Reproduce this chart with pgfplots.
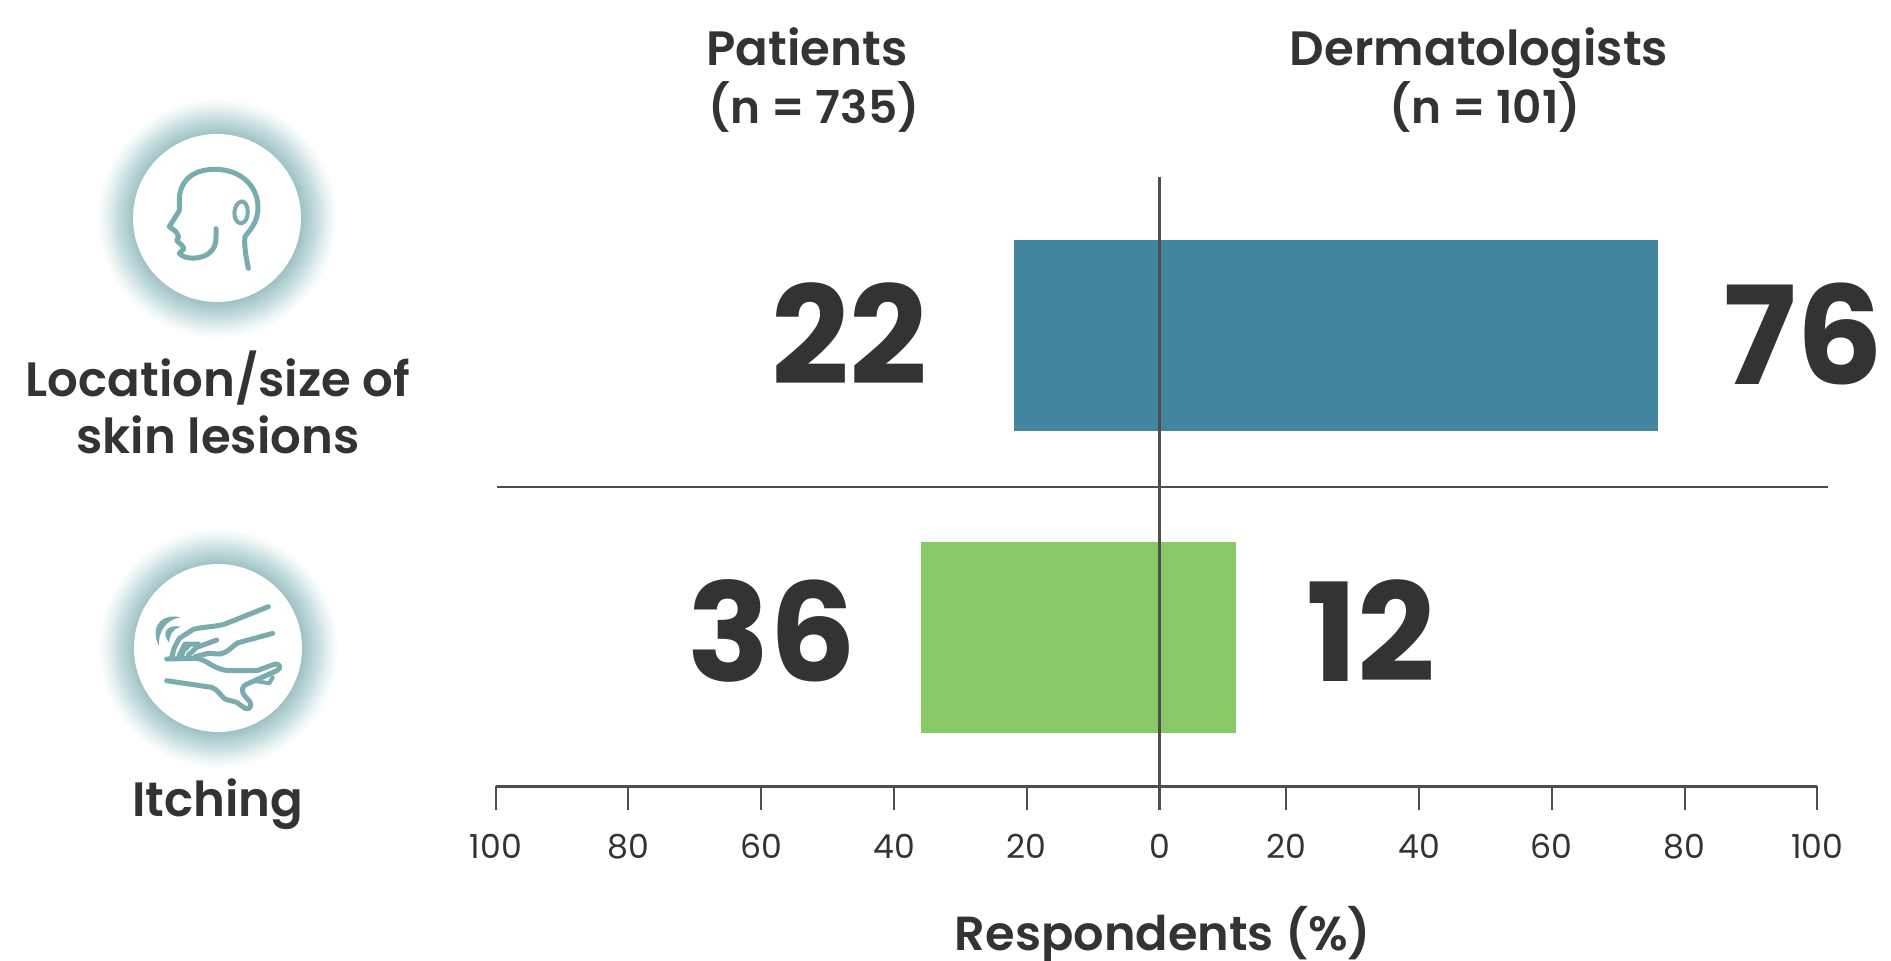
\documentclass[border=0pt]{standalone}
\usepackage{fontspec}
\setmainfont{Poppins}
\newfontfamily\semi{Poppins SemiBold}
\newfontfamily\heavy{Poppins}[UprightFont=* Bold]
\usepackage{pgfplots}
\pgfplotsset{compat=1.18}
\definecolor{ink}{HTML}{333333}
\definecolor{rule}{HTML}{4D4D4D}
\definecolor{lesionbar}{RGB}{65,134,158}
\definecolor{itchbar}{RGB}{136,200,102}
\definecolor{icon}{RGB}{122,172,175}
\pgfdeclareradialshading{glow}{\pgfpointorigin}{%
  rgb(0bp)=(.62,.76,.77);
  rgb(17.5bp)=(.62,.76,.77);
  rgb(20.8bp)=(.78,.87,.88);
  rgb(23bp)=(.91,.95,.95);
  rgb(25bp)=(1,1,1);
  rgb(50bp)=(1,1,1)}
\tikzset{
  lbl/.style={font=\semi\fontsize{24.2}{28}\selectfont,text=ink,inner sep=0pt,anchor=base},
  sub/.style={font=\semi\fontsize{22.8}{28}\selectfont,text=ink,inner sep=0pt,anchor=base},
  val/.style={font=\heavy\fontsize{68.5}{72}\selectfont,text=ink,inner sep=0pt,anchor=center},
  ic/.style={draw=icon,line width=2.5bp,line cap=round,line join=round}
}
\begin{document}
\begin{tikzpicture}[x=0.5bp,y=-0.5bp]
\path[use as bounding box] (0,0) rectangle (1891,960);

% Halo and disc behind each pictogram
\shade[shading=glow] (217,218) circle (120);
\fill[white] (217,218) circle (84);
\shade[shading=glow] (218,648) circle (120);
\fill[white] (218,648) circle (84);

% Head in profile
\begin{scope}[x=1bp/6,y=-1bp/6,shift={(40bp,-45bp)}]
  \draw[ic] (505,535) .. controls (497,495) and (492,465) .. (495,440)
     .. controls (510,420) and (535,395) .. (534,350)
     .. controls (532,285) and (480,238) .. (405,238)
     .. controls (330,238) and (298,280) .. (298,330)
     -- (298,362) -- (268,410) -- (288,425) -- (296,440) -- (290,452)
     -- (306,466) -- (312,476) -- (298,490)
     .. controls (312,510) and (370,510) .. (392,485)
     .. controls (410,468) and (408,450) .. (408,416);
  \draw[ic,line width=2bp] (485,334) .. controls (510,335) and (510,400) .. (482,400)
     .. controls (455,395) and (458,340) .. (485,334);
\end{scope}

% Scratching hands
\begin{scope}[x=1bp/6,y=-1bp/6,shift={(40bp,-260bp)}]
  \draw[ic] (565,260) -- (435,312) .. controls (400,322) and (365,320) .. (340,328)
     -- (298,355) -- (282,385) -- (276,410);
  \draw[ic] (578,340) -- (475,368) .. controls (455,378) and (450,395) .. (420,402)
     -- (385,400) -- (345,410);
  \draw[ic] (410,360) -- (350,382) -- (325,405);
  \draw[ic] (355,372) -- (315,372) -- (297,408);
  \draw[ic] (325,378) -- (308,395) -- (305,410);
  \draw[ic] (260,417) -- (350,415) .. controls (385,420) and (400,450) .. (450,452)
     -- (530,452) -- (585,432) .. controls (600,430) and (605,445) .. (590,452)
     -- (495,495) .. controls (478,510) and (490,525) .. (510,545)
     .. controls (515,560) and (510,570) .. (495,565)
     -- (470,547) -- (435,537) .. controls (420,525) and (415,510) .. (395,502)
     -- (260,482);
  \draw[ic,line width=2bp] (520,482) -- (568,490) -- (578,472);
  \fill[icon] (302,292) .. controls (260,280) and (205,305) .. (236,378)
     .. controls (236,335) and (255,300) .. (302,292);
  \fill[icon] (302,320) .. controls (265,312) and (240,335) .. (268,368)
     .. controls (268,345) and (275,330) .. (302,320);
\end{scope}

% Two-sided bars; the right half of the scale is slightly compressed below 20
\begin{axis}[
  at={(247.85bp,-393bp)},anchor=south west,
  scale only axis,width=660.8bp,height=304.5bp,
  x coord trafo/.code={\pgfmathparse{#1<=0?#1:(#1<20?#1*105/110:#1-10/11)}},
  x coord inv trafo/.code={\pgfmathparse{#1}},
  xmin=-100,xmax=100,ymin=-0.493,ymax=1.523,
  axis y line=none,axis x line*=bottom,
  axis line style={draw=rule,line width=1.5bp,-},
  xtick={-100,-80,-60,-40,-20,0,20,40,60,80,100},
  xticklabels={100,80,60,40,20,0,20,40,60,80,100},
  tick align=outside,major tick length=12bp,
  tick style={draw=rule,line width=1bp},
  ticklabel style={font=\fontsize{16.6}{18}\selectfont,text=ink},
  xticklabel style={yshift=-8.5bp},
  /pgf/number format/assume math mode=true,
  xbar,bar width=95.5bp,bar shift=0pt,
  clip=false,
]
\addplot[draw=none,fill=lesionbar] coordinates {(-22,1)};
\addplot[draw=none,fill=lesionbar] coordinates {(76,1)};
\addplot[draw=none,fill=itchbar] coordinates {(-36,0)};
\addplot[draw=none,fill=itchbar] coordinates {(12,0)};
\end{axis}

% Reference lines over the bars
\draw[rule,line width=1.1bp] (1159.5,177) -- (1159.5,810);
\draw[rule,line width=1.2bp] (497,486.7) -- (1828,486.7);

% Bar values
\node[val] at (849,334) {22};
\node[val] at (1803,334) {76};
\node[val] at (772,631) {36};
\node[val] at (1371,631) {12};

% Headings
\node[lbl] at (807,65) {Patients};
\node[sub] at (814,123) {(n = 735)};
\node[lbl] at (1479,65) {Dermatologists};
\node[sub] at (1485,123) {(n = 101)};
\node[lbl] at (218,396) {Location/size of};
\node[lbl] at (218,453) {skin lesions};
\node[lbl] at (218,816) {Itching};
\node[lbl,font=\semi\fontsize{24}{28}\selectfont] at (1163,950) {Respondents (\%)};
\end{tikzpicture}
\end{document}
